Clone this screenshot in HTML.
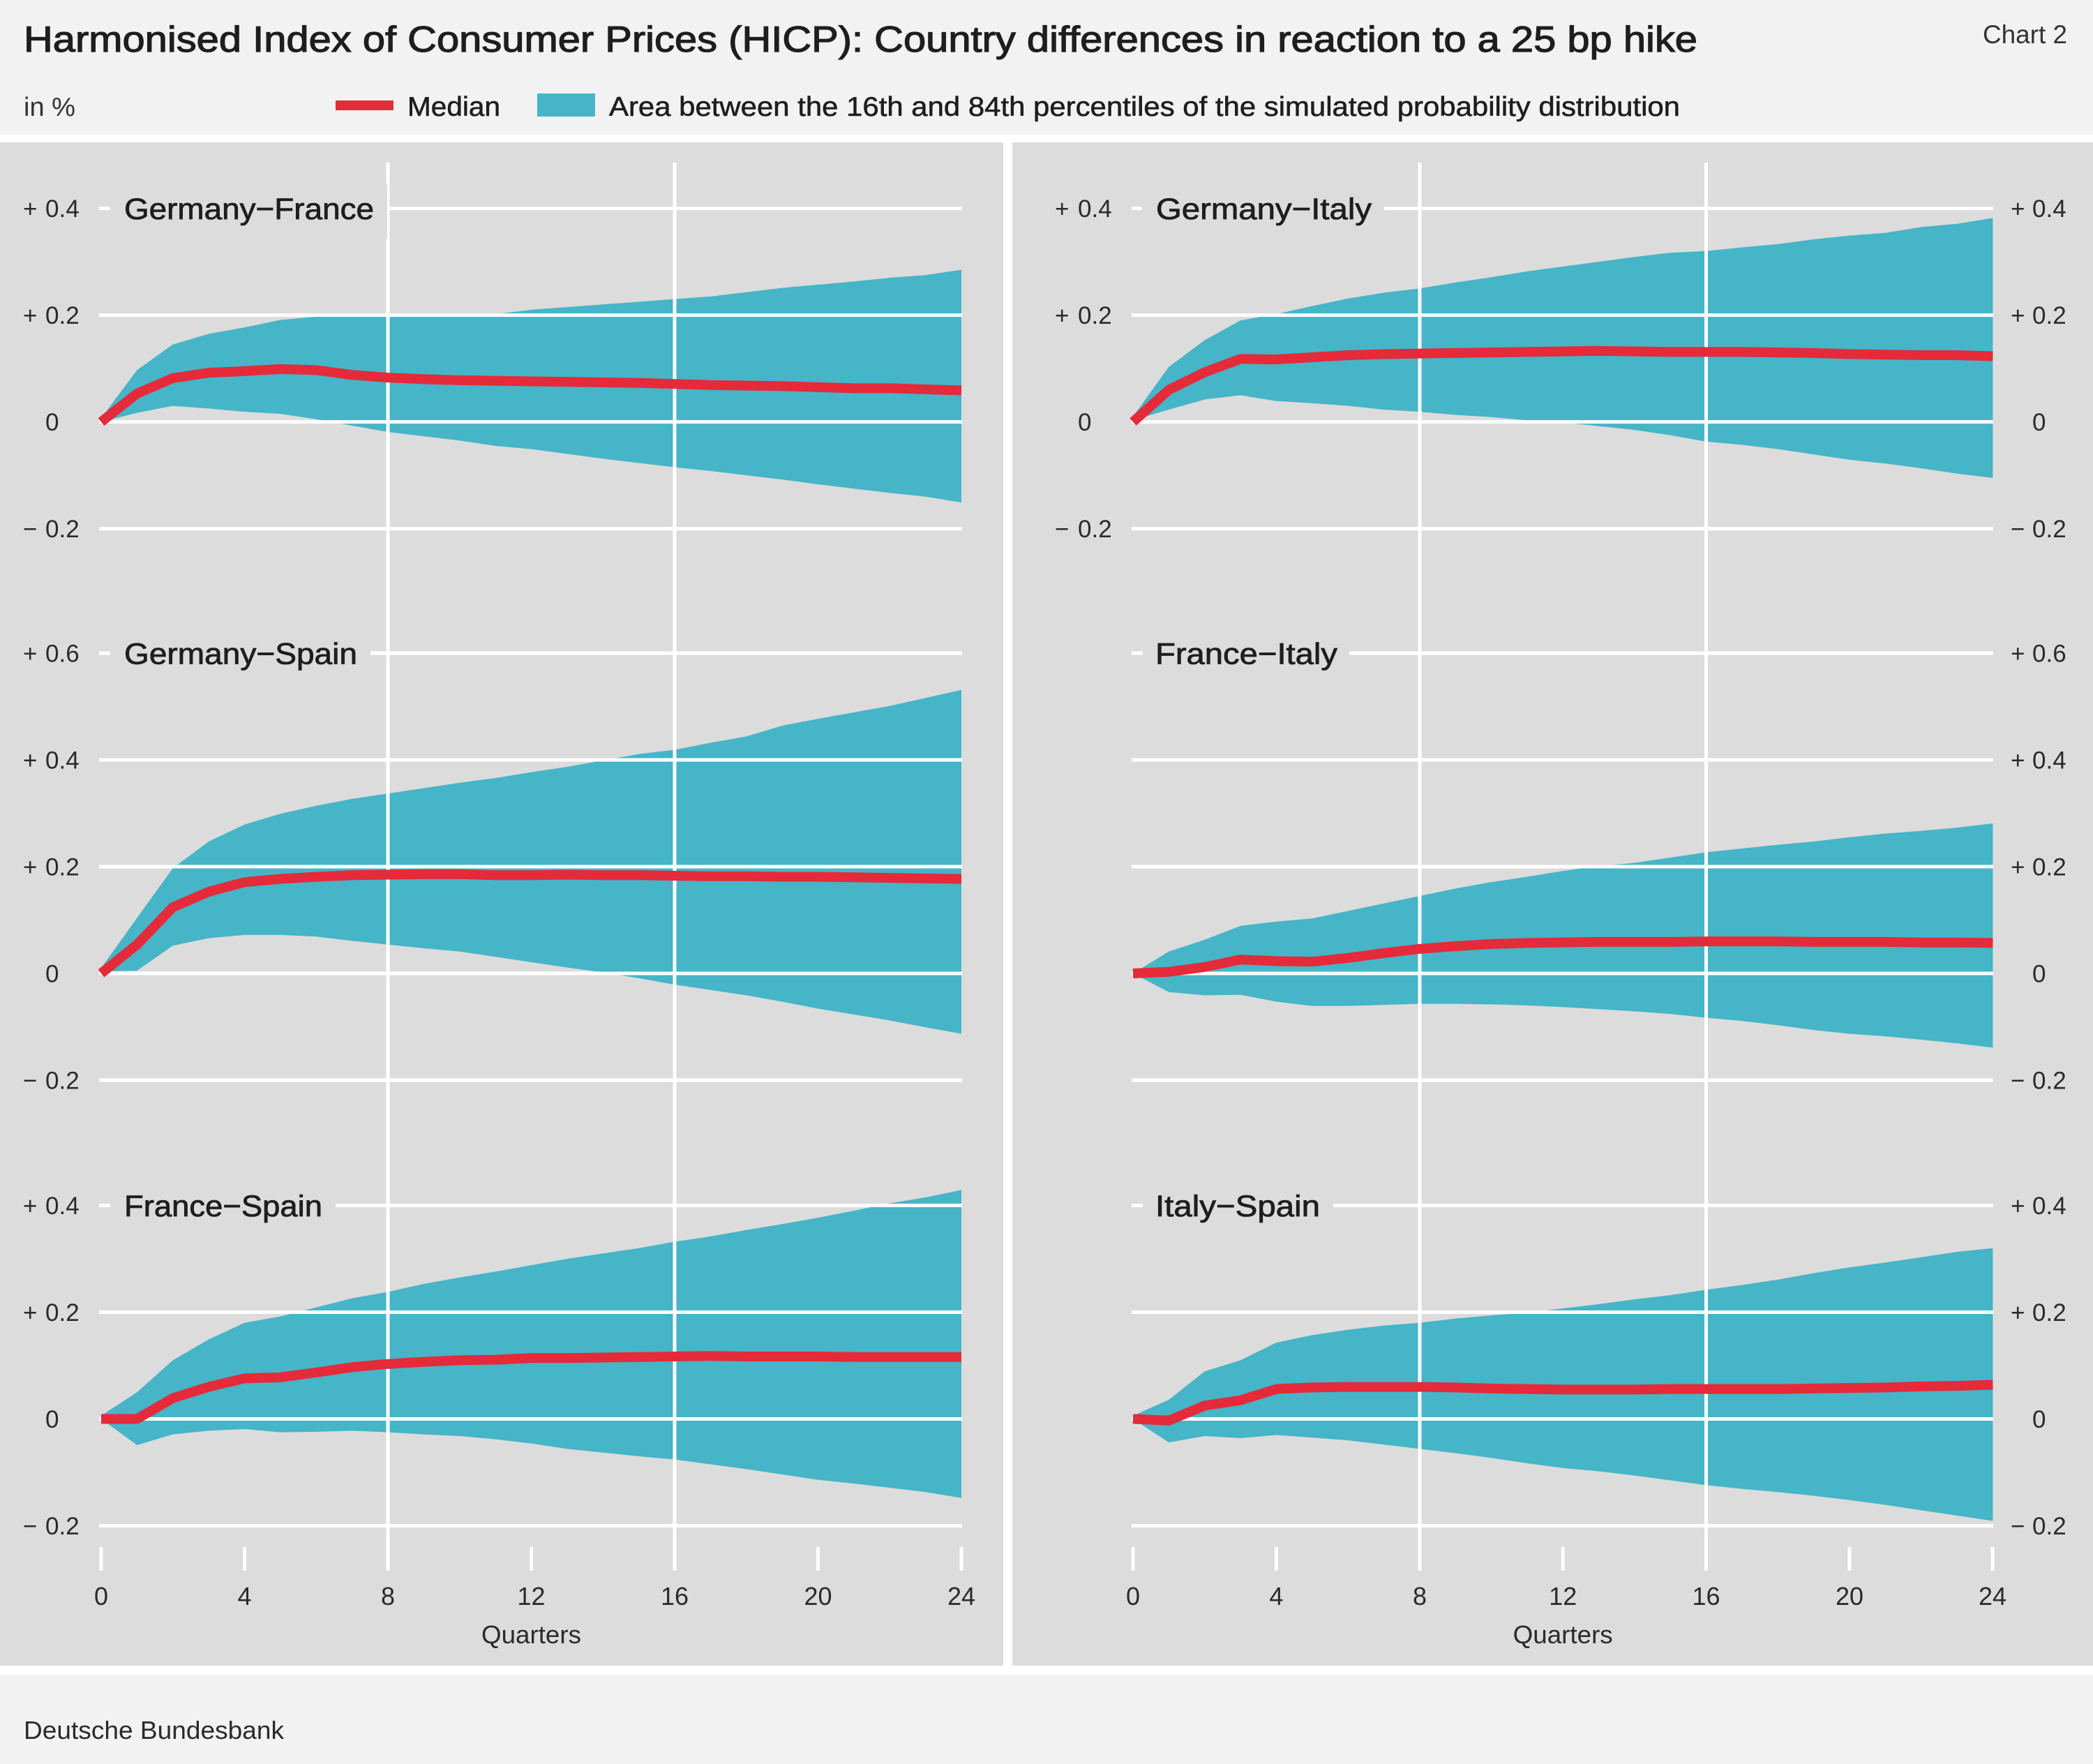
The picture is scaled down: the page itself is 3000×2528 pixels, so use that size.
<!DOCTYPE html>
<html><head><meta charset="utf-8"><style>
html,body{margin:0;padding:0;background:#fff;}
svg{display:block;}
text{font-family:"Liberation Sans",sans-serif;}
</style></head><body>
<svg width="3000" height="2528" viewBox="0 0 3000 2528" xmlns="http://www.w3.org/2000/svg">
<rect x="0" y="0" width="3000" height="2528" fill="#ffffff"/>
<rect x="0" y="0" width="3000" height="193" fill="#f2f2f2"/>
<rect x="0" y="2400" width="3000" height="128" fill="#f2f2f2"/>
<rect x="0" y="204" width="1438" height="2183" fill="#dcdcdc"/>
<rect x="1451" y="204" width="1549" height="2183" fill="#dcdcdc"/>

<!-- header -->
<text x="34" y="74" font-size="52" fill="#1e1e1e" stroke="#1e1e1e" stroke-width="1.2" textLength="2399" lengthAdjust="spacingAndGlyphs">Harmonised Index of Consumer Prices (HICP): Country differences in reaction to a 25 bp hike</text>
<text x="2842" y="62" font-size="37" fill="#333" textLength="121" lengthAdjust="spacingAndGlyphs">Chart 2</text>
<text x="34" y="166" font-size="38" fill="#333" textLength="74" lengthAdjust="spacingAndGlyphs">in %</text>
<rect x="481" y="144" width="83" height="14" fill="#e52a3a"/>
<text x="584" y="166" font-size="39" fill="#1e1e1e" stroke="#1e1e1e" stroke-width="0.6" textLength="133" lengthAdjust="spacingAndGlyphs">Median</text>
<rect x="770" y="134" width="83" height="33" fill="#45b5c7"/>
<text x="873" y="166" font-size="39" fill="#1e1e1e" stroke="#1e1e1e" stroke-width="0.6" textLength="1535" lengthAdjust="spacingAndGlyphs">Area between the 16th and 84th percentiles of the simulated probability distribution</text>

<!-- ===== bands ===== -->
<g fill="#45b5c7">
<!-- P1 Germany-France -->
<g transform="translate(145,604.6) scale(51.375,-765)">
<polygon points="0,0.007 1,0.097 2,0.145 3,0.165 4,0.177 5,0.191 6,0.197 7,0.2 8,0.2 9,0.2 10,0.2 11,0.202 12,0.21 13,0.215 14,0.22 15,0.225 16,0.23 17,0.235 18,0.243 19,0.251 20,0.257 21,0.263 22,0.27 23,0.275 24,0.285 24,-0.151 23,-0.14 22,-0.133 21,-0.125 20,-0.117 19,-0.108 18,-0.1 17,-0.092 16,-0.085 15,-0.077 14,-0.069 13,-0.06 12,-0.051 11,-0.045 10,-0.035 9,-0.027 8,-0.019 7,-0.007 6,0.005 5,0.015 4,0.019 3,0.025 2,0.03 1,0.017 0,0"/>
</g>
<!-- P3 Germany-Spain -->
<g transform="translate(145,1395) scale(51.375,-765)">
<polygon points="0,0.01 1,0.104 2,0.197 3,0.247 4,0.279 5,0.299 6,0.314 7,0.327 8,0.337 9,0.347 10,0.357 11,0.366 12,0.377 13,0.387 14,0.399 15,0.411 16,0.419 17,0.432 18,0.444 19,0.464 20,0.477 21,0.489 22,0.501 23,0.516 24,0.531 24,-0.113 23,-0.101 22,-0.088 21,-0.077 20,-0.066 19,-0.053 18,-0.041 17,-0.031 16,-0.021 15,-0.009 14,0.002 13,0.011 12,0.021 11,0.031 10,0.041 9,0.047 8,0.054 7,0.061 6,0.069 5,0.072 4,0.072 3,0.066 2,0.052 1,0.005 0,0.004"/>
</g>
<!-- P5 France-Spain -->
<g transform="translate(145,2033.5) scale(51.375,-765)">
<polygon points="0,0.006 1,0.05 2,0.11 3,0.149 4,0.18 5,0.192 6,0.209 7,0.226 8,0.238 9,0.253 10,0.265 11,0.276 12,0.288 13,0.3 14,0.31 15,0.32 16,0.332 17,0.342 18,0.354 19,0.365 20,0.377 21,0.39 22,0.404 23,0.415 24,0.429 24,-0.148 23,-0.137 22,-0.129 21,-0.121 20,-0.114 19,-0.104 18,-0.094 17,-0.085 16,-0.076 15,-0.07 14,-0.063 13,-0.056 12,-0.046 11,-0.038 10,-0.032 9,-0.029 8,-0.025 7,-0.022 6,-0.024 5,-0.025 4,-0.019 3,-0.022 2,-0.029 1,-0.049 0,0"/>
</g>
<!-- P2 Germany-Italy -->
<g transform="translate(1624,604.6) scale(51.35,-765)">
<polygon points="0,0.01 1,0.103 2,0.153 3,0.19 4,0.202 5,0.217 6,0.231 7,0.242 8,0.25 9,0.261 10,0.271 11,0.282 12,0.291 13,0.3 14,0.309 15,0.317 16,0.32 17,0.327 18,0.333 19,0.342 20,0.349 21,0.354 22,0.365 23,0.371 24,0.382 24,-0.105 23,-0.097 22,-0.087 21,-0.078 20,-0.071 19,-0.061 18,-0.051 17,-0.043 16,-0.037 15,-0.025 14,-0.015 13,-0.008 12,-0.001 11,0.003 10,0.009 9,0.013 8,0.019 7,0.023 6,0.03 5,0.035 4,0.039 3,0.05 2,0.042 1,0.023 0,0.003"/>
</g>
<!-- P4 France-Italy -->
<g transform="translate(1624,1395) scale(51.35,-765)">
<polygon points="0,0 1,0.041 2,0.063 3,0.089 4,0.097 5,0.103 6,0.117 7,0.131 8,0.145 9,0.159 10,0.171 11,0.181 12,0.192 13,0.201 14,0.207 15,0.217 16,0.227 17,0.234 18,0.241 19,0.247 20,0.255 21,0.262 22,0.267 23,0.273 24,0.281 24,-0.139 23,-0.131 22,-0.124 21,-0.118 20,-0.113 19,-0.106 18,-0.097 17,-0.089 16,-0.083 15,-0.076 14,-0.071 13,-0.067 12,-0.063 11,-0.06 10,-0.058 9,-0.057 8,-0.057 7,-0.059 6,-0.061 5,-0.061 4,-0.053 3,-0.04 2,-0.041 1,-0.035 0,0"/>
</g>
<!-- P6 Italy-Spain -->
<g transform="translate(1624,2033.5) scale(51.35,-765)">
<polygon points="0,0.006 1,0.036 2,0.089 3,0.11 4,0.143 5,0.157 6,0.167 7,0.175 8,0.18 9,0.188 10,0.194 11,0.199 12,0.207 13,0.215 14,0.224 15,0.232 16,0.242 17,0.251 18,0.261 19,0.273 20,0.284 21,0.293 22,0.303 23,0.313 24,0.32 24,-0.191 23,-0.181 22,-0.171 21,-0.161 20,-0.152 19,-0.144 18,-0.137 17,-0.131 16,-0.124 15,-0.115 14,-0.106 13,-0.098 12,-0.092 11,-0.083 10,-0.073 9,-0.064 8,-0.056 7,-0.048 6,-0.04 5,-0.035 4,-0.03 3,-0.036 2,-0.032 1,-0.044 0,0"/>
</g>
</g>

<!-- ===== gridlines ===== -->
<g stroke="#ffffff" stroke-width="5" fill="none">
<!-- left horizontal -->
<line x1="142" y1="298.6" x2="1379" y2="298.6"/>
<line x1="142" y1="451.6" x2="1379" y2="451.6"/>
<line x1="142" y1="604.6" x2="1379" y2="604.6"/>
<line x1="142" y1="757.6" x2="1379" y2="757.6"/>
<line x1="142" y1="936" x2="1379" y2="936"/>
<line x1="142" y1="1089" x2="1379" y2="1089"/>
<line x1="142" y1="1242" x2="1379" y2="1242"/>
<line x1="142" y1="1395" x2="1379" y2="1395"/>
<line x1="142" y1="1548" x2="1379" y2="1548"/>
<line x1="142" y1="1727.5" x2="1379" y2="1727.5"/>
<line x1="142" y1="1880.5" x2="1379" y2="1880.5"/>
<line x1="142" y1="2033.5" x2="1379" y2="2033.5"/>
<line x1="142" y1="2186.5" x2="1379" y2="2186.5"/>
<!-- right horizontal -->
<line x1="1622" y1="298.6" x2="2857" y2="298.6"/>
<line x1="1622" y1="451.6" x2="2857" y2="451.6"/>
<line x1="1622" y1="604.6" x2="2857" y2="604.6"/>
<line x1="1622" y1="757.6" x2="2857" y2="757.6"/>
<line x1="1622" y1="936" x2="2857" y2="936"/>
<line x1="1622" y1="1089" x2="2857" y2="1089"/>
<line x1="1622" y1="1242" x2="2857" y2="1242"/>
<line x1="1622" y1="1395" x2="2857" y2="1395"/>
<line x1="1622" y1="1548" x2="2857" y2="1548"/>
<line x1="1622" y1="1727.5" x2="2857" y2="1727.5"/>
<line x1="1622" y1="1880.5" x2="2857" y2="1880.5"/>
<line x1="1622" y1="2033.5" x2="2857" y2="2033.5"/>
<line x1="1622" y1="2186.5" x2="2857" y2="2186.5"/>
<!-- vertical -->
<line x1="556" y1="233" x2="556" y2="2251"/>
<line x1="967" y1="233" x2="967" y2="2251"/>
<line x1="2035" y1="233" x2="2035" y2="2251"/>
<line x1="2445.5" y1="233" x2="2445.5" y2="2251"/>
<!-- ticks -->
<line x1="145" y1="2217" x2="145" y2="2251"/>
<line x1="350.5" y1="2217" x2="350.5" y2="2251"/>
<line x1="761.5" y1="2217" x2="761.5" y2="2251"/>
<line x1="1172.5" y1="2217" x2="1172.5" y2="2251"/>
<line x1="1378" y1="2217" x2="1378" y2="2251"/>
<line x1="1624" y1="2217" x2="1624" y2="2251"/>
<line x1="1829.4" y1="2217" x2="1829.4" y2="2251"/>
<line x1="2240.2" y1="2217" x2="2240.2" y2="2251"/>
<line x1="2651" y1="2217" x2="2651" y2="2251"/>
<line x1="2856" y1="2217" x2="2856" y2="2251"/>
</g>

<!-- ===== label boxes ===== -->
<g fill="#dcdcdc">
<rect x="158" y="264" width="397" height="78"/>
<rect x="158" y="902" width="373" height="78"/>
<rect x="158" y="1693" width="323" height="78"/>
<rect x="1637" y="264" width="347" height="78"/>
<rect x="1638" y="902" width="296" height="78"/>
<rect x="1638" y="1693" width="273" height="78"/>
</g>
<g font-size="43" fill="#1e1e1e" stroke="#1e1e1e" stroke-width="0.8">
<text x="178" y="314" textLength="358" lengthAdjust="spacingAndGlyphs">Germany−France</text>
<text x="178" y="951.5" textLength="334" lengthAdjust="spacingAndGlyphs">Germany−Spain</text>
<text x="178" y="1743" textLength="284" lengthAdjust="spacingAndGlyphs">France−Spain</text>
<text x="1657" y="314" textLength="309" lengthAdjust="spacingAndGlyphs">Germany−Italy</text>
<text x="1656" y="951.5" textLength="261" lengthAdjust="spacingAndGlyphs">France−Italy</text>
<text x="1656" y="1743" textLength="236" lengthAdjust="spacingAndGlyphs">Italy−Spain</text>
</g>

<!-- ===== medians ===== -->
<g fill="none" stroke="#e52a3a" stroke-width="14" stroke-linejoin="round">
<g transform="translate(145,604.6) scale(51.375,-765)">
<polyline vector-effect="non-scaling-stroke" points="0,0 1,0.053 2,0.082 3,0.092 4,0.095 5,0.099 6,0.097 7,0.088 8,0.083 9,0.08 10,0.078 11,0.077 12,0.076 13,0.075 14,0.074 15,0.073 16,0.071 17,0.069 18,0.068 19,0.067 20,0.065 21,0.063 22,0.063 23,0.061 24,0.059"/>
</g>
<g transform="translate(145,1395) scale(51.375,-765)">
<polyline vector-effect="non-scaling-stroke" points="0,0 1,0.054 2,0.124 3,0.153 4,0.171 5,0.177 6,0.181 7,0.184 8,0.185 9,0.186 10,0.186 11,0.184 12,0.184 13,0.185 14,0.184 15,0.184 16,0.183 17,0.182 18,0.182 19,0.181 20,0.181 21,0.18 22,0.179 23,0.178 24,0.177"/>
</g>
<g transform="translate(145,2033.5) scale(51.375,-765)">
<polyline vector-effect="non-scaling-stroke" points="0,0 1,0 2,0.039 3,0.06 4,0.076 5,0.078 6,0.087 7,0.097 8,0.103 9,0.107 10,0.11 11,0.111 12,0.114 13,0.114 14,0.115 15,0.116 16,0.117 17,0.118 18,0.117 19,0.117 20,0.117 21,0.116 22,0.116 23,0.116 24,0.116"/>
</g>
<g transform="translate(1624,604.6) scale(51.35,-765)">
<polyline vector-effect="non-scaling-stroke" points="0,0 1,0.06 2,0.093 3,0.118 4,0.117 5,0.121 6,0.125 7,0.127 8,0.128 9,0.129 10,0.13 11,0.131 12,0.132 13,0.133 14,0.132 15,0.131 16,0.131 17,0.131 18,0.13 19,0.129 20,0.127 21,0.126 22,0.125 23,0.125 24,0.123"/>
</g>
<g transform="translate(1624,1395) scale(51.35,-765)">
<polyline vector-effect="non-scaling-stroke" points="0,0 1,0.003 2,0.012 3,0.026 4,0.023 5,0.022 6,0.029 7,0.038 8,0.046 9,0.051 10,0.055 11,0.057 12,0.058 13,0.059 14,0.059 15,0.059 16,0.06 17,0.06 18,0.06 19,0.059 20,0.059 21,0.059 22,0.058 23,0.058 24,0.057"/>
</g>
<g transform="translate(1624,2033.5) scale(51.35,-765)">
<polyline vector-effect="non-scaling-stroke" points="0,0 1,-0.003 2,0.025 3,0.035 4,0.056 5,0.059 6,0.06 7,0.06 8,0.06 9,0.059 10,0.057 11,0.056 12,0.055 13,0.055 14,0.055 15,0.056 16,0.056 17,0.056 18,0.056 19,0.057 20,0.058 21,0.059 22,0.061 23,0.062 24,0.064"/>
</g>
</g>

<!-- ===== y tick labels ===== -->
<g font-size="35" fill="#2a2a2a">
<!-- left panels -->
<text x="33" y="311">+</text><text x="65" y="311">0.4</text>
<text x="33" y="464">+</text><text x="65" y="464">0.2</text>
<text x="65" y="617">0</text>
<text x="33" y="770">−</text><text x="65" y="770">0.2</text>

<text x="33" y="948.5">+</text><text x="65" y="948.5">0.6</text>
<text x="33" y="1101.5">+</text><text x="65" y="1101.5">0.4</text>
<text x="33" y="1254.5">+</text><text x="65" y="1254.5">0.2</text>
<text x="65" y="1407.5">0</text>
<text x="33" y="1560.5">−</text><text x="65" y="1560.5">0.2</text>

<text x="33" y="1740">+</text><text x="65" y="1740">0.4</text>
<text x="33" y="1893">+</text><text x="65" y="1893">0.2</text>
<text x="65" y="2046">0</text>
<text x="33" y="2199">−</text><text x="65" y="2199">0.2</text>

<!-- top-right, left side -->
<text x="1512" y="311">+</text><text x="1545" y="311">0.4</text>
<text x="1512" y="464">+</text><text x="1545" y="464">0.2</text>
<text x="1545" y="617">0</text>
<text x="1512" y="770">−</text><text x="1545" y="770">0.2</text>

<!-- right side -->
<text x="2882" y="311">+</text><text x="2913" y="311">0.4</text>
<text x="2882" y="464">+</text><text x="2913" y="464">0.2</text>
<text x="2913" y="617">0</text>
<text x="2882" y="770">−</text><text x="2913" y="770">0.2</text>

<text x="2882" y="948.5">+</text><text x="2913" y="948.5">0.6</text>
<text x="2882" y="1101.5">+</text><text x="2913" y="1101.5">0.4</text>
<text x="2882" y="1254.5">+</text><text x="2913" y="1254.5">0.2</text>
<text x="2913" y="1407.5">0</text>
<text x="2882" y="1560.5">−</text><text x="2913" y="1560.5">0.2</text>

<text x="2882" y="1740">+</text><text x="2913" y="1740">0.4</text>
<text x="2882" y="1893">+</text><text x="2913" y="1893">0.2</text>
<text x="2913" y="2046">0</text>
<text x="2882" y="2199">−</text><text x="2913" y="2199">0.2</text>
</g>

<!-- ===== x tick labels ===== -->
<g font-size="36" fill="#2a2a2a" text-anchor="middle">
<text x="145" y="2300">0</text>
<text x="350.5" y="2300">4</text>
<text x="556" y="2300">8</text>
<text x="761.5" y="2300">12</text>
<text x="967" y="2300">16</text>
<text x="1172.5" y="2300">20</text>
<text x="1378" y="2300">24</text>
<text x="1624" y="2300">0</text>
<text x="1829.4" y="2300">4</text>
<text x="2035" y="2300">8</text>
<text x="2240.2" y="2300">12</text>
<text x="2445.5" y="2300">16</text>
<text x="2651" y="2300">20</text>
<text x="2856" y="2300">24</text>
<text x="761.5" y="2355" textLength="143" lengthAdjust="spacingAndGlyphs">Quarters</text>
<text x="2240.2" y="2355" textLength="143" lengthAdjust="spacingAndGlyphs">Quarters</text>
</g>

<!-- footer -->
<text x="34" y="2492" font-size="36" fill="#2a2a2a" textLength="373" lengthAdjust="spacingAndGlyphs">Deutsche Bundesbank</text>
</svg>
</body></html>
